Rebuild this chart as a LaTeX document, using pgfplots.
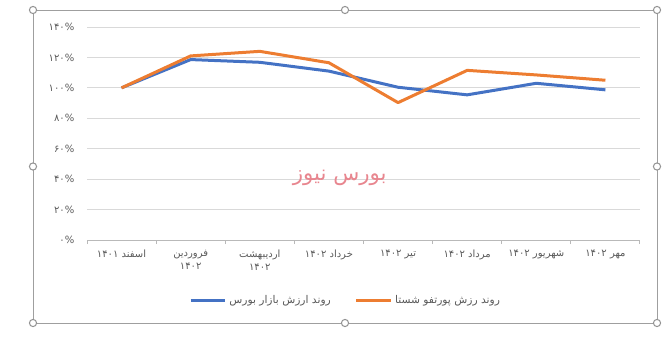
\documentclass[border=0pt]{standalone}
\usepackage{fontspec}
\setmainfont{DejaVu Sans}
\newfontfamily\af[Script=Arabic]{DejaVu Sans}
\TeXXeTstate=1
\usepackage{pgfplots}
\pgfplotsset{compat=1.18}
\definecolor{sblue}{HTML}{4472C4}
\definecolor{sorange}{HTML}{ED7D31}
\definecolor{gridc}{HTML}{D9D9D9}
\definecolor{txt}{HTML}{595959}
\definecolor{wm}{HTML}{E8868F}
\begin{document}
\begin{tikzpicture}[x=0.75pt,y=-0.75pt]
\useasboundingbox (0,0) rectangle (672,357);
\begin{axis}[
  at={(65.25pt,-180pt)}, anchor=south west,
  width=414.75pt, height=159.75pt, scale only axis,
  xmin=-0.5, xmax=7.5, ymin=0, ymax=140,
  axis x line*=bottom, axis y line*=left,
  y axis line style={draw=none},
  x axis line style={draw=gray!55, line width=0.75pt},
  xtick={0,...,7},
  xticklabels={{\af\beginR اسفند ۱۴۰۱\endR},{\af\beginR فروردین\endR\\\af ۱۴۰۲},{\af\beginR اردیبهشت\endR\\\af ۱۴۰۲},{\af\beginR خرداد ۱۴۰۲\endR},{\af\beginR تیر ۱۴۰۲\endR},{\af\beginR مرداد ۱۴۰۲\endR},{\af\beginR شهریور ۱۴۰۲\endR},{\af\beginR مهر ۱۴۰۲\endR}},
  minor xtick={-0.5,0.5,...,7.5},
  tick align=outside,
  major tick length=0pt, minor tick length=3pt,
  minor x tick style={draw=gray!55, line width=0.75pt},
  ytick={0,20,...,140},
  yticklabels={{\af ۰}\%,{\af ۲۰}\%,{\af ۴۰}\%,{\af ۶۰}\%,{\af ۸۰}\%,{\af ۱۰۰}\%,{\af ۱۲۰}\%,{\af ۱۴۰}\%},
  ymajorgrids, grid style={gridc, line width=0.75pt},
  xticklabel style={align=center, anchor=north, yshift=-4pt, text=txt, font=\fontsize{7.5}{10}\selectfont},
  yticklabel style={anchor=east, xshift=-6pt, text=txt, font=\fontsize{7.5}{9}\selectfont},
  legend style={at={(0.468,-0.282)}, anchor=center, draw=none, fill=none,
    legend columns=2, font=\fontsize{8}{9}\selectfont, text=txt,
    /tikz/every even column/.append style={column sep=16pt}},
  legend image code/.code={\draw[#1] (0pt,0pt) -- (26pt,0pt);},
]
\node[text=wm, font=\fontsize{16}{16}\selectfont] at (rel axis cs:0.457,0.29) {\af\beginR بورس نیوز\endR};
\addplot[sblue, line width=2.25pt, line join=round] coordinates {
(0,100) (1,118.6) (2,116.8) (3,111) (4,100.4) (5,95.4) (6,103) (7,98.7)};
\addlegendentry{\af\beginR روند ارزش بازار بورس\endR}
\addplot[sorange, line width=2.25pt, line join=round] coordinates {
(0,100) (1,121) (2,124) (3,116.5) (4,90.3) (5,111.5) (6,108.5) (7,105)};
\addlegendentry{\af\beginR روند رزش پورتفو شستا\endR}
\end{axis}
\draw[gray!75, line width=0.75pt] (33,10) rectangle (657,323);
\foreach \p in {(33,10),(345,10),(657,10),(33,166.5),(657,166.5),(33,323),(345,323),(657,323)}
  \draw[fill=white, draw=gray!85, line width=0.75pt] \p circle (2.7pt);
\end{tikzpicture}
\end{document}
